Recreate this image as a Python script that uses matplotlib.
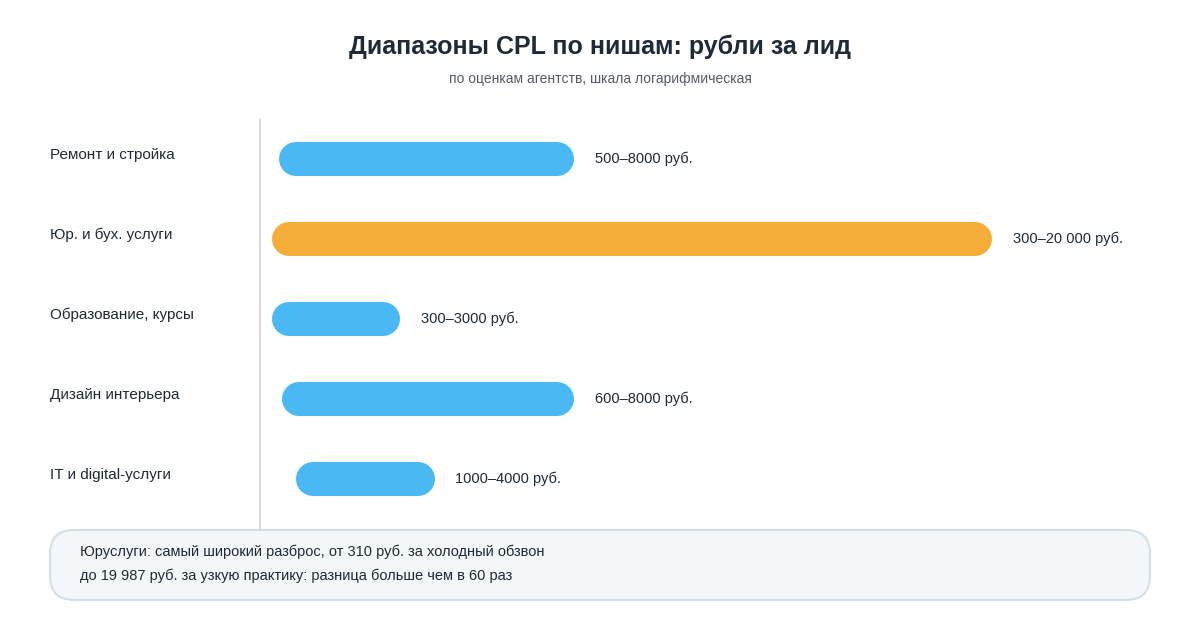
import matplotlib.pyplot as plt
from matplotlib.patches import FancyBboxPatch

# data
niches = ["Ремонт и стройка", "Юр. и бух. услуги", "Образование, курсы",
          "Дизайн интерьера", "IT и digital-услуги"]
cpl_low = [500, 300, 300, 600, 1000]
cpl_high = [8000, 20000, 3000, 8000, 4000]
range_labels = ["500–8000 руб.", "300–20 000 руб.", "300–3000 руб.",
                "600–8000 руб.", "1000–4000 руб."]
highlight = 1

W, H = 1200, 630
fig = plt.figure(figsize=(12, 6.3), dpi=100)
fig.patch.set_facecolor("white")
plt.rcParams['font.family'] = ['Liberation Sans', 'DejaVu Sans']

dark = "#1f2a36"
blue = "#4ab8f2"
orange = "#f5ad3a"

fig.text(0.5, 1 - 47 / H, "Диапазоны CPL по нишам: рубли за лид", ha="center", va="center",
         fontsize=18, fontweight="bold", color=dark)
fig.text(0.5, 1 - 79 / H, "по оценкам агентств, шкала логарифмическая", ha="center",
         va="center", fontsize=10, color="#555b63")

# axes: px 260..1150 horizontally, 120..528 vertically
ax = fig.add_axes([260 / W, 1 - 528 / H, 890 / W, 408 / H])
ax.axis("off")
k = 686 / 19700
x0 = 289 - 300 * k - 260
ax.set_xlim(-x0 / k, (890 - x0) / k)
ax.set_ylim(len(niches) - 0.5 + 0.6, -0.5 - 0.0)
ax.set_ylim(4.5 + 0.6, -0.5 - 0.0)
# row centres at 159..479 px: step 80 px, axis 408 px -> spacing
ax.set_ylim((528 - 159) / 80 - 0.0, (120 - 159) / 80)

fig.add_artist(plt.Line2D([260 / W, 260 / W], [1 - 120 / H, 1 - 528 / H],
                          color="#d6d9dd", lw=1.5))

for i, (name, lo, hi, lab) in enumerate(zip(niches, cpl_low, cpl_high, range_labels)):
    c = orange if i == highlight else blue
    ax.plot([lo, hi], [i, i], color=c, lw=24.5, solid_capstyle="round")
    ax.annotate(lab, (hi, i), xytext=(27, 0), textcoords="offset points",
                va="center", ha="left", fontsize=10.5, color=dark)
    fig.text(50 / W, 1 - (155 + 80 * i) / H, name, va="center", ha="left",
             fontsize=11, color=dark)

box = FancyBboxPatch((50 / W, 1 - 600 / H), 1100 / W, 70 / H,
                     boxstyle="round,pad=0,rounding_size=0.02",
                     transform=fig.transFigure, facecolor="#f3f7fa",
                     edgecolor="#d3dee8", lw=1.5, mutation_aspect=W / H)
fig.add_artist(box)
fig.text(80 / W, 1 - 552 / H, "Юруслуги: самый широкий разброс, от 310 руб. за холодный обзвон",
         va="center", fontsize=10.5, color=dark)
fig.text(80 / W, 1 - 576 / H, "до 19 987 руб. за узкую практику: разница больше чем в 60 раз",
         va="center", fontsize=10.5, color=dark)

fig.savefig("out.png", dpi=100)
